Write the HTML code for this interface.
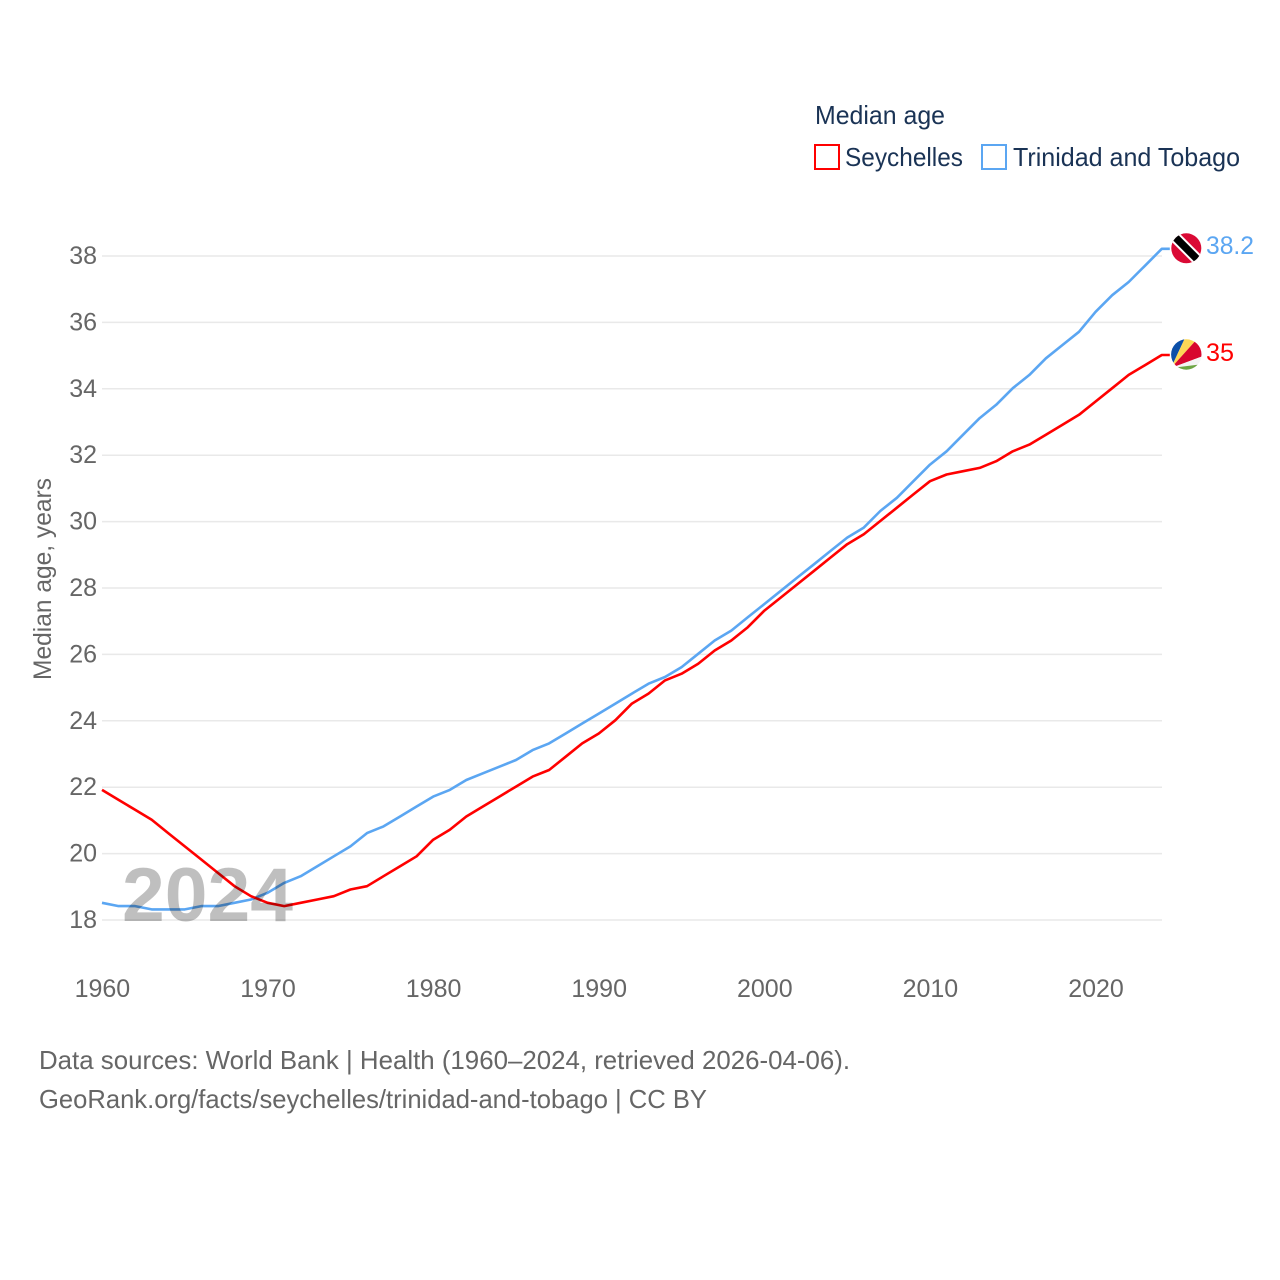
<!DOCTYPE html>
<html lang="en">
<head>
<meta charset="utf-8">
<title>Median age: Seychelles and Trinidad and Tobago</title>
<style>
html,body{margin:0;padding:0;background:#fff;width:1280px;height:1280px;overflow:hidden}
svg{display:block;font-family:"Liberation Sans",sans-serif}
.tick{font-size:25px;fill:#666}
.legend{font-size:26px;fill:#1a3355}
.note{font-size:26px;fill:#666}
</style>
</head>
<body>
<svg id="chart" width="1280" height="1280" viewBox="0 0 1280 1280">
  <defs>
    <clipPath id="clip-tt"><circle cx="1186.3" cy="248.3" r="15"/></clipPath>
    <clipPath id="clip-sc"><circle cx="1186.3" cy="354.5" r="15.2"/></clipPath>
  </defs>
  <g id="grid"></g>
  <g id="y-ticks"></g>
  <g id="x-ticks"></g>
  <text class="tick" transform="translate(51,579) rotate(-90)" text-anchor="middle" textLength="202" lengthAdjust="spacingAndGlyphs">Median age, years</text>

  <text x="815" y="124" class="legend" textLength="130" lengthAdjust="spacingAndGlyphs">Median age</text>
  <rect x="815" y="145" width="24" height="24" fill="#fff" stroke="#ff0000" stroke-width="2"/>
  <text x="845" y="166" class="legend" textLength="118" lengthAdjust="spacingAndGlyphs">Seychelles</text>
  <rect x="982" y="145" width="24" height="24" fill="#fff" stroke="#5ba6f2" stroke-width="2"/>
  <text x="1013" y="166" class="legend" textLength="227" lengthAdjust="spacingAndGlyphs">Trinidad and Tobago</text>

  <polyline id="line-tt" fill="none" stroke="#5ba6f2" stroke-width="2.6" stroke-linejoin="round" transform="translate(0,-0.6)"/>
  <polyline id="line-sc" fill="none" stroke="#ff0000" stroke-width="2.6" stroke-linejoin="round" transform="translate(0,-0.6)"/>

  <g clip-path="url(#clip-tt)">
    <rect x="1170" y="232" width="33" height="33" fill="#da0a35"/>
    <path d="M1170 232 L1203 265" stroke="#fff" stroke-width="11.5" fill="none"/>
    <path d="M1170 232 L1203 265" stroke="#000" stroke-width="7.5" fill="none"/>
  </g>
  <g clip-path="url(#clip-sc)">
    <rect x="1170" y="338" width="33" height="33" fill="#fff"/>
    <polygon points="1171,368 1170,338 1185,338" fill="#0b4fa8"/>
    <polygon points="1171,368 1185,338 1198,338" fill="#fcd856"/>
    <polygon points="1171,368 1198,338 1203,338 1203,356" fill="#d8062e"/>
    <polygon points="1171,368 1203,356 1203,364" fill="#f4f4f4"/>
    <polygon points="1171,368 1203,364 1203,372 1171,372" fill="#6da544"/>
  </g>
  <text x="1206" y="254" font-size="25" fill="#5ba6f2" textLength="48" lengthAdjust="spacingAndGlyphs">38.2</text>
  <text x="1206" y="361" font-size="25" fill="#ff0000" textLength="28" lengthAdjust="spacingAndGlyphs">35</text>

  <text x="122" y="921" font-size="76" font-weight="700" fill="#000" fill-opacity="0.25" textLength="171" lengthAdjust="spacingAndGlyphs">2024</text>

  <text x="39" y="1069" class="note" textLength="811" lengthAdjust="spacingAndGlyphs">Data sources: World Bank | Health (1960–2024, retrieved 2026-04-06).</text>
  <text x="39" y="1108" class="note" textLength="668" lengthAdjust="spacingAndGlyphs">GeoRank.org/facts/seychelles/trinidad-and-tobago | CC BY</text>
</svg>
<script>
const startYear = 1960;
const xTicks = [1960, 1970, 1980, 1990, 2000, 2010, 2020];
const yTicks = [18, 20, 22, 24, 26, 28, 30, 32, 34, 36, 38];
const seychelles = [21.9,21.6,21.3,21.0,20.6,20.2,19.8,19.4,19.0,18.7,18.5,18.4,18.5,18.6,18.7,18.9,19.0,19.3,19.6,19.9,20.4,20.7,21.1,21.4,21.7,22.0,22.3,22.5,22.9,23.3,23.6,24.0,24.5,24.8,25.2,25.4,25.7,26.1,26.4,26.8,27.3,27.7,28.1,28.5,28.9,29.3,29.6,30.0,30.4,30.8,31.2,31.4,31.5,31.6,31.8,32.1,32.3,32.6,32.9,33.2,33.6,34.0,34.4,34.7,35.0];
const trinidad = [18.5,18.4,18.4,18.3,18.3,18.3,18.4,18.4,18.5,18.6,18.8,19.1,19.3,19.6,19.9,20.2,20.6,20.8,21.1,21.4,21.7,21.9,22.2,22.4,22.6,22.8,23.1,23.3,23.6,23.9,24.2,24.5,24.8,25.1,25.3,25.6,26.0,26.4,26.7,27.1,27.5,27.9,28.3,28.7,29.1,29.5,29.8,30.3,30.7,31.2,31.7,32.1,32.6,33.1,33.5,34.0,34.4,34.9,35.3,35.7,36.3,36.8,37.2,37.7,38.2];

function xScale(year){ return 102 + (year - 1960) * 16.56; }
function yScale(v){ return 920 - (v - 18) * 33.2; }

const NS = 'http://www.w3.org/2000/svg';
const grid = document.getElementById('grid');
const yG = document.getElementById('y-ticks');
const xG = document.getElementById('x-ticks');

yTicks.forEach(function(t){
  const l = document.createElementNS(NS, 'line');
  
  
  l.setAttribute('x1', 102);
  l.setAttribute('x2', 1162);
  l.setAttribute('y1', yScale(t));
  l.setAttribute('y2', yScale(t));
  l.setAttribute('stroke', '#e9e9e9');
  l.setAttribute('stroke-width', '1.5');
  grid.appendChild(l);
  const s = document.createElementNS(NS, 'text');
  
  
  s.setAttribute('class', 'tick');
  s.setAttribute('x', 97);
  s.setAttribute('y', yScale(t) + 8);
  s.setAttribute('text-anchor', 'end');
  s.textContent = t;
  yG.appendChild(s);
});

xTicks.forEach(function(t){
  const s = document.createElementNS(NS, 'text');
  
  
  s.setAttribute('class', 'tick');
  s.setAttribute('x', xScale(t) + 0.4);
  s.setAttribute('y', 997);
  s.setAttribute('text-anchor', 'middle');
  s.textContent = t;
  xG.appendChild(s);
});

function pointsFor(series){
  const pts = series.map(function(v, i){
    return xScale(startYear + i).toFixed(1) + ',' + yScale(v).toFixed(1);
  });
  const last = series.length - 1;
  pts.push((xScale(startYear + last) + 8).toFixed(1) + ',' + yScale(series[last]).toFixed(1));
  return pts.join(' ');
}
document.getElementById('line-sc').setAttribute('points', pointsFor(seychelles));
document.getElementById('line-tt').setAttribute('points', pointsFor(trinidad));
</script>
</body>
</html>
